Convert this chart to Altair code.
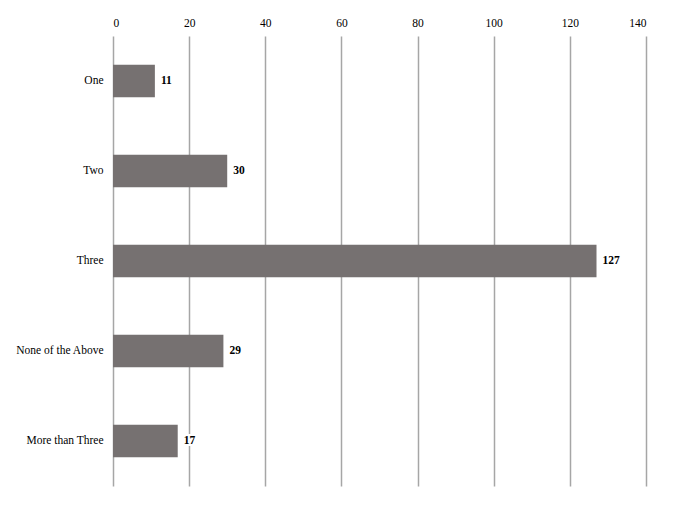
import altair as alt
import pandas as pd

categories = ["One", "Two", "Three", "None of the Above", "More than Three"]
counts = [11, 30, 127, 29, 17]

data = pd.DataFrame({"answer": categories, "count": counts})

c_font = "Liberation Serif"
c_size = 11.5

base = alt.Chart(data).encode(
    y=alt.Y("answer:N", sort=categories, title=None,
            scale=alt.Scale(paddingInner=0.64, paddingOuter=0.32),
            axis=alt.Axis(domain=False, ticks=False, labelPadding=10,
                          labelFontSize=c_size, labelFont=c_font, labelColor="#000000"))
)

bars = base.mark_bar(color="#767171").encode(
    x=alt.X("count:Q", title=None,
            scale=alt.Scale(domain=[0, 140], nice=False),
            axis=alt.Axis(orient="top", values=list(range(0, 141, 20)),
                          domain=False, ticks=False, labelPadding=8,
                          labelFontSize=c_size, labelFont=c_font, labelColor="#000000",
                          grid=True, gridColor="#a6a6a6", gridWidth=1.5))
)

# white halo behind labels, breaks the gridline like the original
halo = base.mark_text(align="left", dx=6, font=c_font, fontSize=c_size, fontWeight="bold",
                      stroke="white", strokeWidth=4, color="white").encode(
    x="count:Q", text="count:Q"
)

labels = base.mark_text(align="left", dx=6, font=c_font, fontSize=c_size, fontWeight="bold",
                        color="#000000").encode(
    x="count:Q", text="count:Q"
)

chart = (bars + halo + labels).properties(
    width=533, height=450,
    autosize="none",
    padding={"left": 105, "top": 28, "right": 21, "bottom": 12},
).configure_view(stroke=None)

chart.save("out.html", embed_options={"renderer": "svg", "actions": False})
